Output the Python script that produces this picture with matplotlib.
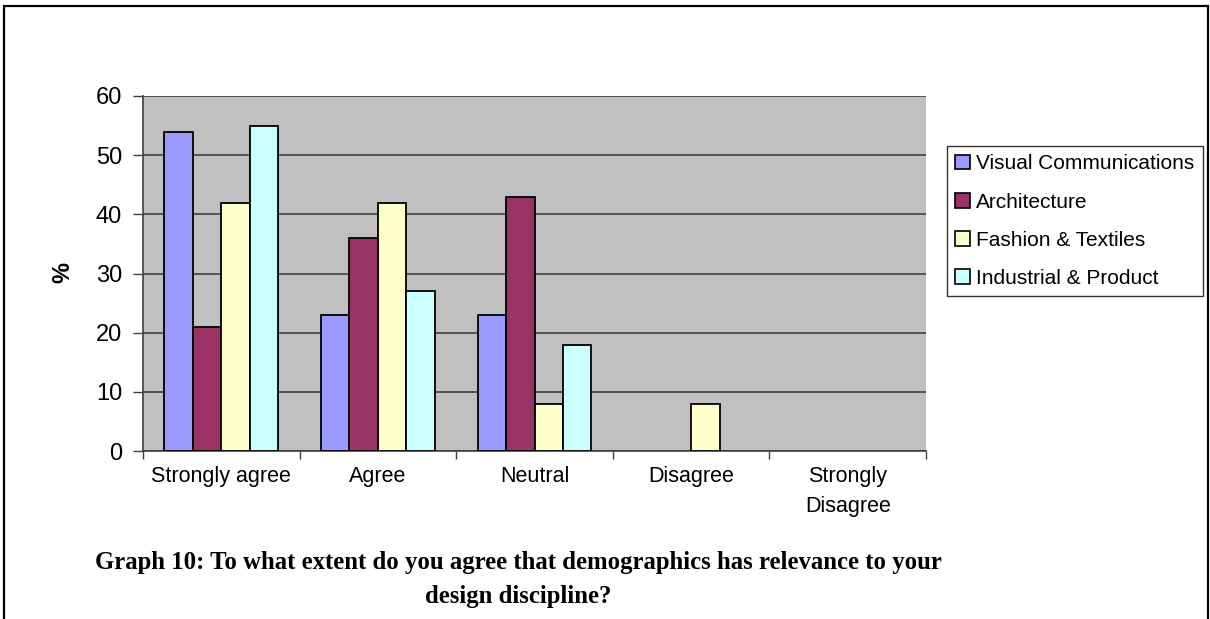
import numpy as np
from matplotlib import pyplot as plt
from matplotlib.patches import Patch, Rectangle

categories = ['Strongly agree', 'Agree', 'Neutral', 'Disagree', 'Strongly\nDisagree']
series_names = ['Visual Communications', 'Architecture', 'Fashion & Textiles', 'Industrial & Product']
visual_comm = [54, 23, 23, 0, 0]
architecture = [21, 36, 43, 0, 0]
fashion = [42, 42, 8, 8, 0]
industrial = [55, 27, 18, 0, 0]
colors = ['#9999FF', '#993366', '#FFFFCC', '#CCFFFF']

W, H = 1210, 619
fig = plt.figure(figsize=(W / 100, H / 100), dpi=100)
plt.rcParams['font.family'] = ['Liberation Sans', 'DejaVu Sans']

# plot area in pixels
left, right, top, bottom = 143, 926, 96, 451
ax = fig.add_axes([left / W, 1 - bottom / H, (right - left) / W, (bottom - top) / H])
ax.set_facecolor('#C0C0C0')

n = len(series_names)
bar_w = 1 / (n + 1.5)
x = np.arange(len(categories))
for i, (vals, c) in enumerate(zip([visual_comm, architecture, fashion, industrial], colors)):
    pos = x - 0.5 + 0.75 * bar_w + (i + 0.5) * bar_w
    # no outline for empty bars
    lws = [1.3 if v > 0 else 0 for v in vals]
    ax.bar(pos, vals, width=bar_w, color=c, edgecolor='black', linewidth=lws, zorder=3)

ax.set_xlim(-0.5, len(categories) - 0.5)
ax.set_ylim(0, 60)
ax.set_yticks(range(0, 61, 10))
ax.yaxis.grid(True, color='#404040', linewidth=1.2, zorder=1)
ax.set_axisbelow(True)

# category labels between boundary ticks
ax.set_xticks(np.arange(len(categories) + 1) - 0.5)
ax.set_xticklabels([])
ax.set_xticks(x, minor=True)
ax.set_xticklabels(categories, minor=True, fontsize=15.5, linespacing=1.55)
ax.tick_params(axis='x', which='minor', length=0, pad=11)
ax.tick_params(axis='x', which='major', length=6, color='#404040', width=1)
ax.tick_params(axis='y', length=7, pad=8, labelsize=17, color='#404040', width=1)

for s in ['top', 'right']:
    ax.spines[s].set_visible(False)
ax.spines['left'].set_color('#404040')
ax.spines['bottom'].set_color('#404040')
ax.spines['left'].set_linewidth(1.2)
ax.spines['bottom'].set_linewidth(1.2)

fig.text(63 / W, 1 - 272 / H, '%', rotation=90, fontsize=17, fontweight='bold',
         ha='center', va='center')

handles = [Patch(facecolor=c, edgecolor='black', linewidth=1.2) for c in colors]
leg = fig.legend(handles, series_names, loc='upper left',
                 bbox_to_anchor=(947 / W, 1 - 146 / H), fontsize=15,
                 frameon=True, fancybox=False, edgecolor='black',
                 handlelength=0.7, handleheight=0.7, handletextpad=0.3,
                 labelspacing=0.92, borderpad=0.4, borderaxespad=0)
leg.get_frame().set_linewidth(1.0)

fig.text(518 / W, 1 - 562 / H,
         'Graph 10: To what extent do you agree that demographics has relevance to your',
         ha='center', va='center', fontsize=17.8, fontweight='bold', family='Liberation Serif')
fig.text(518 / W, 1 - 596 / H, 'design discipline?',
         ha='center', va='center', fontsize=17.8, fontweight='bold', family='Liberation Serif')

# outer frame
fig.patches.append(Rectangle((4 / W, -0.05), (1208 - 4) / W, 1.05 - 6 / H,
                             transform=fig.transFigure, fill=False,
                             edgecolor='black', linewidth=1.6))

fig.savefig('out.png', dpi=100)
